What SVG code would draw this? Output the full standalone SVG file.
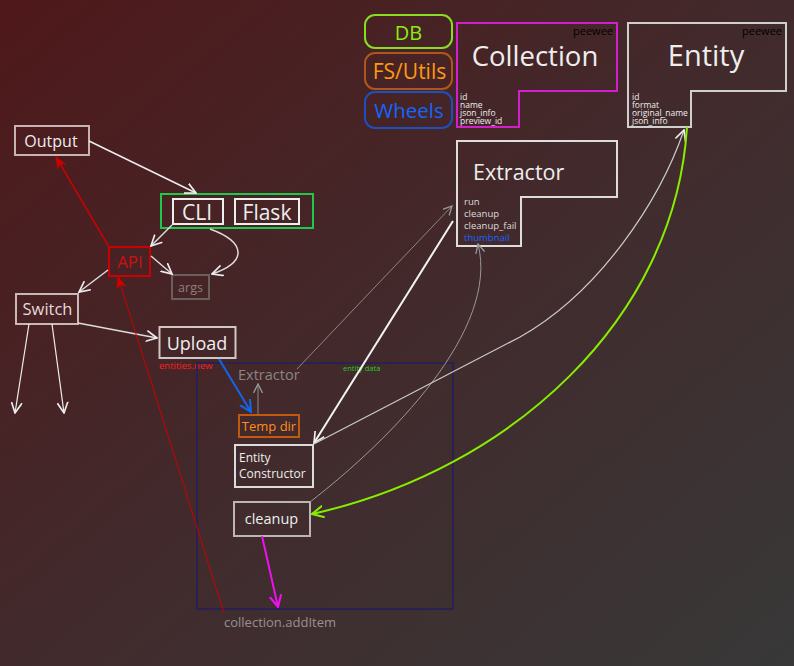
<svg xmlns="http://www.w3.org/2000/svg" width="794" height="666" viewBox="0 0 794 666">
<defs>
<linearGradient id="bg" x1="0" y1="0" x2="1" y2="1">
<stop offset="0" stop-color="#4f181a"/>
<stop offset="0.5" stop-color="#422a2c"/>
<stop offset="1" stop-color="#383838"/>
</linearGradient>
<marker id="aw" viewBox="0 0 10 10" refX="9" refY="5" markerUnits="userSpaceOnUse" markerWidth="12" markerHeight="12" orient="auto-start-reverse"><path d="M0,0.5 L9,5 L0,9.5" fill="none" stroke="#eeeeee" stroke-width="1.4"/></marker>
<marker id="ag" viewBox="0 0 10 10" refX="9" refY="5" markerUnits="userSpaceOnUse" markerWidth="10" markerHeight="10" orient="auto-start-reverse"><path d="M0,0.5 L9,5 L0,9.5" fill="none" stroke="#999999" stroke-width="1.3"/></marker>
<marker id="ab" viewBox="0 0 10 10" refX="9" refY="5" markerUnits="userSpaceOnUse" markerWidth="13" markerHeight="13" orient="auto"><path d="M0,0.5 L9,5 L0,9.5" fill="none" stroke="#1166ee" stroke-width="1.6"/></marker>
<marker id="al" viewBox="0 0 10 10" refX="9" refY="5" markerUnits="userSpaceOnUse" markerWidth="13" markerHeight="13" orient="auto"><path d="M0,0.5 L9,5 L0,9.5" fill="none" stroke="#88ee00" stroke-width="1.6"/></marker>
<marker id="am" viewBox="0 0 10 10" refX="9" refY="5" markerUnits="userSpaceOnUse" markerWidth="13" markerHeight="13" orient="auto"><path d="M0,0.5 L9,5 L0,9.5" fill="none" stroke="#ee11ee" stroke-width="1.6"/></marker>
<marker id="ar" viewBox="0 0 10 10" refX="9" refY="5" markerUnits="userSpaceOnUse" markerWidth="13" markerHeight="13" orient="auto"><path d="M0,1 L10,5 L0,9 L2.5,5 Z" fill="#cc0000"/></marker>
</defs>
<style>
text{font-family:"Open Sans","DejaVu Sans",sans-serif;}
.box{fill:none;stroke-width:2;}
.lbl{fill:#eeeeee;text-anchor:middle;}
.fld{fill:#eeeeee;font-size:8.5px;}
.pw{fill:#000000;font-size:11px;text-anchor:end;}
.c{fill:none;}
</style>
<rect width="794" height="666" fill="url(#bg)"/>

<g id="legend-db"><rect x="365" y="15" width="87" height="33" rx="10" class="box" stroke="#88dd22"/><text x="408.5" y="40" class="lbl" style="fill:#88ee11;font-size:20px">DB</text></g>
<g id="legend-fs"><rect x="365" y="53" width="87" height="36" rx="10" class="box" stroke="#b0561a"/><text x="409.5" y="79" class="lbl" style="fill:#ff9911;font-size:21px">FS/Utils</text></g>
<g id="legend-wheels"><rect x="365" y="92" width="87" height="36" rx="10" class="box" stroke="#1d4fc0"/><text x="409" y="118" class="lbl" style="fill:#1166ff;font-size:20.5px">Wheels</text></g>

<g id="collection">
<polygon points="457,23 617,23 617,91 519,91 519,127 457,127" class="box" stroke="#d21fcc"/>
<text x="613" y="35" class="pw">peewee</text>
<text x="535" y="66" class="lbl" style="font-size:27.5px">Collection</text>
<text x="460" y="100" class="fld">id</text>
<text x="460" y="108" class="fld">name</text>
<text x="460" y="116" class="fld">json_info</text>
<text x="460" y="124" class="fld">preview_id</text>
</g>

<g id="entity">
<polygon points="628,23 786,23 786,91 691,91 691,127 628,127" class="box" stroke="#cfcfcf"/>
<text x="782" y="35" class="pw">peewee</text>
<text x="706" y="66" class="lbl" style="font-size:29px">Entity</text>
<text x="632" y="100" class="fld">id</text>
<text x="632" y="108" class="fld">format</text>
<text x="632" y="116" class="fld">original_name</text>
<text x="632" y="124" class="fld">json_info</text>
</g>

<g id="extractor">
<polygon points="457,141 617,141 617,197 521,197 521,246 457,246" class="box" stroke="#dddddd"/>
<text x="473" y="180" style="fill:#eeeeee;font-size:21.5px">Extractor</text>
<text x="464" y="205" style="fill:#dddddd;font-size:9.5px">run</text>
<text x="464" y="217" style="fill:#dddddd;font-size:9.5px">cleanup</text>
<text x="464" y="229" style="fill:#dddddd;font-size:9.5px">cleanup_fail</text>
<text x="464" y="241" style="fill:#1166ff;font-size:9.5px">thumbnail</text>
</g>

<g id="output"><rect x="15" y="126" width="74" height="29" class="box" stroke="#c4b4b4"/><text x="51" y="147" class="lbl" style="font-size:16px">Output</text></g>

<g id="cli-flask">
<rect x="161" y="194" width="152" height="34" class="box" stroke="#1ec84a"/>
<g id="cli"><rect x="173" y="199" width="50" height="25" class="box" stroke="#eeeeee"/><text x="197" y="219.5" class="lbl" style="font-size:21px">CLI</text></g>
<g id="flask"><rect x="235" y="199" width="64" height="25" class="box" stroke="#eeeeee"/><text x="267" y="219.5" class="lbl" style="font-size:21px">Flask</text></g>
</g>

<g id="api"><rect x="109" y="247" width="41" height="29" class="box" stroke="#cc0000"/><text x="130" y="267.5" class="lbl" style="fill:#cc1111;font-size:17px">API</text></g>
<g id="args"><rect x="172" y="275" width="37" height="24" class="box" stroke="#6a5f5f"/><text x="190.5" y="292" class="lbl" style="fill:#8a8080;font-size:12.5px">args</text></g>
<g id="switch"><rect x="16" y="294" width="62" height="30" class="box" stroke="#c8b8b8"/><text x="47.5" y="314.5" class="lbl" style="fill:#e4dada;font-size:16.5px">Switch</text></g>
<g id="upload"><rect x="159.5" y="327" width="76" height="31" class="box" stroke="#cfc6c6"/><text x="197" y="350" class="lbl" style="font-size:18px">Upload</text></g>
<text x="159" y="369" style="fill:#ff1f1f;font-size:9.5px">entities.new</text>

<g id="pipeline">
<rect x="197" y="363" width="256" height="246" class="box" stroke="#2a2052"/>
<text x="238" y="380" style="fill:#8a8585;font-size:14.5px">Extractor</text>
<text x="343" y="371" style="fill:#22cc22;font-size:7.5px">entity data</text>
</g>
<g id="tempdir"><rect x="239" y="415" width="60" height="22" class="box" stroke="#c05a10"/><text x="269" y="431" class="lbl" style="fill:#ff8c1a;font-size:13px">Temp dir</text></g>
<g id="entity-constructor"><rect x="235" y="445" width="78" height="42" class="box" stroke="#dcdcdc"/><text x="239" y="462" style="fill:#eeeeee;font-size:12px">Entity</text><text x="239" y="478" style="fill:#eeeeee;font-size:12px">Constructor</text></g>
<g id="cleanup"><rect x="234" y="502" width="76" height="34" class="box" stroke="#bdb4b4"/><text x="271.5" y="524" class="lbl" style="font-size:14.5px">cleanup</text></g>
<text x="224" y="627" style="fill:#999090;font-size:13px">collection.addItem</text>

<g id="connectors">
<path d="M89,141 L196,193" class="c" stroke="#eeeeee" stroke-width="1.5" marker-end="url(#aw)"/>
<path d="M172,225 L151,246" class="c" stroke="#dddddd" stroke-width="1.5" marker-end="url(#aw)"/>
<path d="M210,229 C246,242 248,262 212,274" class="c" stroke="#dddddd" stroke-width="1.5" marker-end="url(#aw)"/>
<path d="M151,256 L172,274" class="c" stroke="#dddddd" stroke-width="1.5" marker-end="url(#aw)"/>
<path d="M109,247 L56,157" class="c" stroke="#cc0000" stroke-width="1.5" marker-end="url(#ar)"/>
<path d="M108,270 L79,292" class="c" stroke="#dddddd" stroke-width="1.5" marker-end="url(#aw)"/>
<path d="M78,323 L157,338" class="c" stroke="#dddddd" stroke-width="1.5" marker-end="url(#aw)"/>
<path d="M29,324 L15,413" class="c" stroke="#eeeeee" stroke-width="1.2" marker-end="url(#aw)"/>
<path d="M52,324 L64,413" class="c" stroke="#eeeeee" stroke-width="1.2" marker-end="url(#aw)"/>
<path d="M224,613 L118,277" class="c" stroke="#cc0000" stroke-width="1" marker-end="url(#ar)"/>
<path d="M219,359 L251,412" class="c" stroke="#1166ee" stroke-width="2" marker-end="url(#ab)"/>
<path d="M258,414 L258,384" class="c" stroke="#888888" stroke-width="1" marker-end="url(#ag)"/>
<path d="M297,369 L452,206" class="c" stroke="#888888" stroke-width="1" marker-end="url(#ag)"/>
<path d="M453,221 L314,443" class="c" stroke="#f4f4f4" stroke-width="2" marker-end="url(#aw)"/>
<path d="M310,502 C390,440 500,330 478,244" class="c" stroke="#999999" stroke-width="1" marker-end="url(#ag)"/>
<path d="M314,444 L520,337 C600,292 660,200 684,130" class="c" stroke="#cccccc" stroke-width="1.2" marker-end="url(#aw)"/>
<path d="M687,127 C675,320 510,470 312,514" class="c" stroke="#88ee00" stroke-width="2" marker-end="url(#al)"/>
<path d="M262,536 L278,607" class="c" stroke="#ee11ee" stroke-width="2" marker-end="url(#am)"/>
</g>
</svg>
